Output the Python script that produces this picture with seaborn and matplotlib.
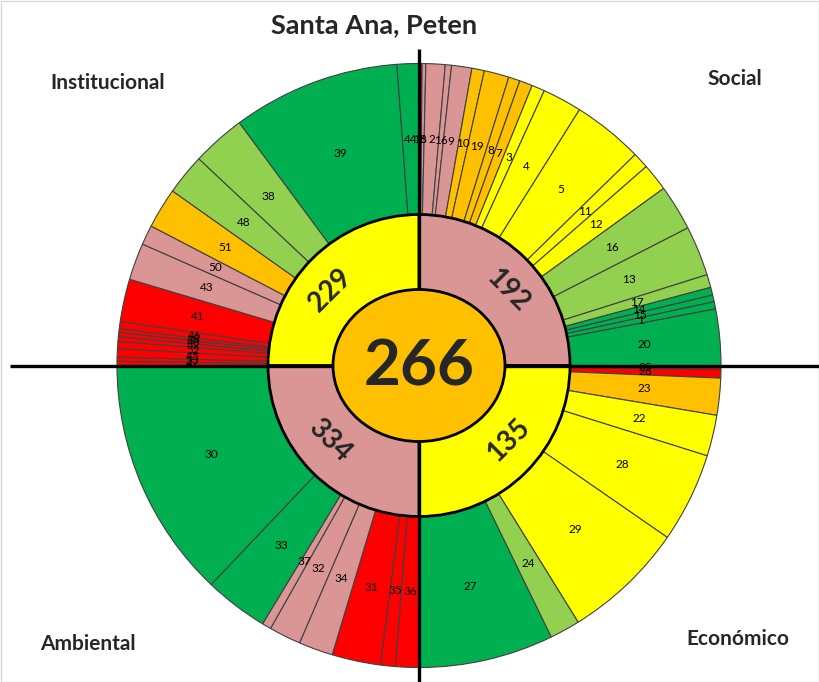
import matplotlib
matplotlib.use("Agg")
import matplotlib.pyplot as plt
from matplotlib.patches import Ellipse, Rectangle
import numpy as np
import seaborn as sns

# outer ring: angular width (degrees) of each indicator,
# clockwise from 12 o'clock, one list per dimension
social_labels = ["18", "6", "2", "16", "9", "10", "19", "8", "7", "3", "4", "5",
                 "11", "12", "16", "13", "17", "14", "15", "1", "20"]
social_widths = [0.6, 0.7, 3.7, 1.2, 3.9, 2.4, 4.8, 2.2, 2.5, 2.5, 7.6, 13.6,
                 3.1, 5.3, 8.8, 9.6, 2.5, 1.5, 1.3, 1.4, 10.8]
social_colors = ["r", "p", "p", "p", "p", "o", "o", "o", "o", "y", "y", "y",
                 "y", "y", "lg", "lg", "lg", "dg", "dg", "dg", "dg"]

economico_labels = ["25", "26", "23", "22", "28", "29", "24", "27"]
economico_widths = [0.8, 1.6, 7.1, 7.9, 17.3, 23.5, 5.85, 25.95]
economico_colors = ["r", "r", "o", "y", "y", "y", "lg", "dg"]

ambiental_labels = ["36", "35", "31", "34", "32", "37", "33", "30"]
ambiental_widths = [4.5, 2.85, 9.35, 6.6, 6.15, 1.75, 12.3, 46.5]
ambiental_colors = ["r", "r", "r", "p", "p", "p", "dg", "dg"]

institucional_labels = ["47", "53", "45", "52", "42", "40", "49", "46", "41",
                        "43", "50", "51", "48", "38", "39", "44"]
institucional_widths = [0.8, 0.8, 1.6, 1.4, 0.9, 0.8, 0.7, 1.4, 8.2,
                        7.1, 3.8, 7.8, 7.9, 10.3, 32.3, 4.2]
institucional_colors = ["r", "r", "r", "r", "r", "r", "r", "r", "r",
                        "p", "p", "o", "lg", "lg", "dg", "dg"]

# inner ring, same clockwise order
dimension_names = ["Social", "Económico", "Ambiental", "Institucional"]
dimension_values = [192, 135, 334, 229]
dimension_colors = ["p", "y", "p", "y"]
total_value = 266

palette = {"dg": "#00B050", "lg": "#92D050", "y": "#FFFF00",
           "o": "#FFC000", "p": "#DA9694", "r": "#FF0000"}

sns.set_theme(style="white")
plt.rcParams["font.family"] = ["Lato", "DejaVu Sans"]

W, H = 819, 682
fig = plt.figure(figsize=(W / 100, H / 100), dpi=100)
ax = fig.add_axes([0, 0, 1, 1])
cx, cy = 419, H - 365.5
R_out, R_in = 302, 151

groups = [(social_labels, social_widths, social_colors),
          (economico_labels, economico_widths, economico_colors),
          (ambiental_labels, ambiental_widths, ambiental_colors),
          (institucional_labels, institucional_widths, institucional_colors)]
outer_labels = sum([g[0] for g in groups], [])
outer_widths = sum([g[1] for g in groups], [])
outer_colors = [palette[c] for g in groups for c in g[2]]

_, texts = ax.pie(outer_widths, labels=outer_labels, colors=outer_colors,
                  startangle=90, counterclock=False, radius=R_out, center=(cx, cy),
                  labeldistance=0.75,
                  wedgeprops=dict(width=R_out - R_in, edgecolor="#404040", linewidth=0.8),
                  textprops=dict(fontsize=8.5, color="black", zorder=3))
for t in texts:
    t.set_ha("center")
    t.set_va("center")

# inner ring: one slice per dimension, spanning the dimension's indicators
inner_widths = [sum(g[1]) for g in groups]
ax.pie(inner_widths, colors=[palette[c] for c in dimension_colors],
       startangle=90, counterclock=False, radius=R_in, center=(cx, cy),
       wedgeprops=dict(edgecolor="black", linewidth=2))

# cross
ax.plot([10, W], [cy, cy], color="black", lw=2.4, solid_capstyle="butt", zorder=2.5)
ax.plot([cx, cx], [0, H - 49], color="black", lw=2.4, solid_capstyle="butt", zorder=2.5)

# centre
ax.add_patch(Ellipse((cx, cy), 172, 152, facecolor=palette["o"], edgecolor="black",
                     linewidth=2, zorder=4))
ax.text(cx, cy - 2, str(total_value), ha="center", va="center", fontsize=46,
        fontweight="bold", zorder=5)

start = 90
for val, width in zip(dimension_values, inner_widths):
    mid = np.deg2rad(start - width / 2)
    rot = -45 if np.cos(mid) * np.sin(mid) > 0 else 45
    ax.text(cx + 126 * np.cos(mid), cy + 106 * np.sin(mid), str(val), ha="center",
            va="center", rotation=rot, rotation_mode="anchor", fontsize=20,
            fontweight="bold", zorder=5)
    start -= width

ax.text(374, H - 25, "Santa Ana, Peten", ha="center", va="center", fontsize=19.5,
        fontweight="bold")
corner_pos = {"Social": (735, 79), "Económico": (738, 639),
              "Ambiental": (88, 644), "Institucional": (108, 83)}
for name in dimension_names:
    x, y = corner_pos[name]
    ax.text(x, H - y, name, ha="center", va="center", fontsize=15, fontweight="bold")

ax.add_patch(Rectangle((0.5, 0.5), W - 1, H - 1, fill=False, edgecolor="#D9D9D9", lw=1))
ax.set_xlim(0, W)
ax.set_ylim(0, H)
ax.set_aspect("equal")
ax.axis("off")

fig.savefig("out.png", dpi=100)
